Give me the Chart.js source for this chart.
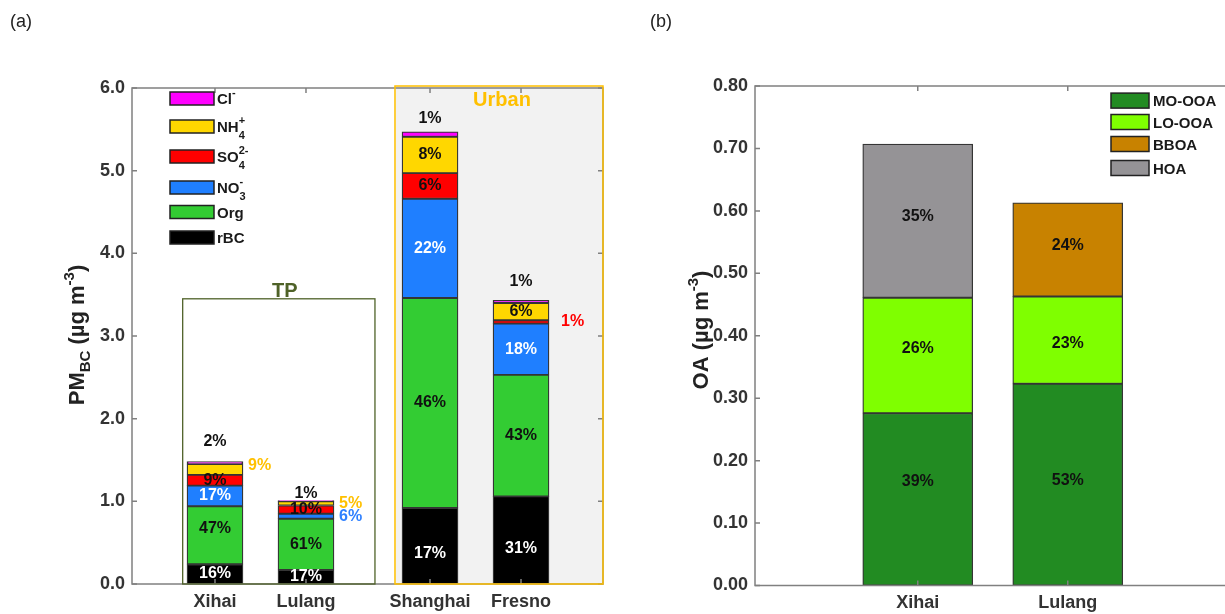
<!DOCTYPE html>
<html>
<head>
<meta charset="utf-8">
<script src="https://cdn.jsdelivr.net/npm/chart.js@4.4.1/dist/chart.umd.min.js"></script>
<style>
  html, body { margin: 0; padding: 0; background: #fff; overflow: hidden; width: 1225px; height: 614px; }
  #wrap { position: relative; width: 1225px; height: 614px; overflow: hidden; }
  canvas { position: absolute; top: 0; }
  #pmCanvas { left: 0; }
  #oaCanvas { left: 640px; }
  .panel { position: absolute; top: 11px; font: 18px 'Liberation Sans', Arial, sans-serif; color: #222; }
</style>
</head>
<body>
<div id="wrap">
  <canvas id="pmCanvas" width="640" height="614"></canvas>
  <canvas id="oaCanvas" width="600" height="614"></canvas>
  <div class="panel" style="left:10px">(a)</div>
  <div class="panel" style="left:650px">(b)</div>
</div>
<script>
// ---------- panel (a): PM_BC composition ----------
const sites = ['Xihai', 'Lulang', 'Shanghai', 'Fresno'];
const sitePos = [1, 2, 3.363, 4.363];
const rBC = [0.24, 0.17, 0.92, 1.06];
const org = [0.70, 0.62, 2.54, 1.47];
const no3 = [0.25, 0.06, 1.20, 0.62];
const so4 = [0.13, 0.10, 0.31, 0.04];
const nh4 = [0.13, 0.05, 0.44, 0.21];
const cl  = [0.03, 0.01, 0.06, 0.03];
const pmTicks = [0, 1, 2, 3, 4, 5, 6];

// ---------- panel (b): OA source factors ----------
const oaSites = ['Xihai', 'Lulang'];
const oaPos = [1, 2];
const moOOA = [0.276, 0.323];
const loOOA = [0.185, 0.140];
const bbOA  = [null, 0.150];
const hOA   = [0.246, null];
const oaTicks = [0, 0.1, 0.2, 0.3, 0.4, 0.5, 0.6, 0.7, 0.8];

const FONT = "'Liberation Sans', Arial, sans-serif";
Chart.defaults.font.family = FONT;

const pmSeries = [
  { key: 'rBC', values: rBC, fill: '#000000', text: '#ffffff' },
  { key: 'org', values: org, fill: '#33CC33', text: '#111111' },
  { key: 'no3', values: no3, fill: '#1F7FFF', text: '#ffffff' },
  { key: 'so4', values: so4, fill: '#FF0000', text: '#111111' },
  { key: 'nh4', values: nh4, fill: '#FFD700', text: '#111111' },
  { key: 'cl',  values: cl,  fill: '#FF00FF', text: '#111111' }
];
const oaSeries = [
  { key: 'mo', name: 'MO-OOA', values: moOOA, fill: '#228B22', text: '#111111' },
  { key: 'lo', name: 'LO-OOA', values: loOOA, fill: '#7FFF00', text: '#111111' },
  { key: 'bb', name: 'BBOA',   values: bbOA,  fill: '#C88200', text: '#111111' },
  { key: 'ho', name: 'HOA',    values: hOA,   fill: '#959396', text: '#111111' }
];

// where each share label sits (default: centred in its segment)
const pmLabelStyle = {
  rBC: { 2: { dy: 8 }, 3: { dy: 8 } },
  org: { 0: { dy: -7 } },
  no3: { 1: { pos: 'right', gap: 5, color: '#2F80FF' } },
  so4: { 3: { pos: 'right', gap: 12, color: '#FF0000' } },
  nh4: { 0: { pos: 'right', gap: 5, color: '#FFC000', dy: -4 }, 1: { pos: 'right', gap: 5, color: '#FFC000' } },
  cl:  { 0: { pos: 'above', gap: 20 }, 1: { pos: 'above', gap: 7 }, 2: { pos: 'above', gap: 13 }, 3: { pos: 'above', gap: 19 } }
};
const oaLabelStyle = {
  mo: { 0: { dy: -18 }, 1: { dy: -4 } },
  lo: { 0: { dy: -7 }, 1: { dy: 3 } },
  bb: { 1: { dy: -4 } },
  ho: { 0: { dy: -4 } }
};

// legend rows: rich text pieces (sub/superscripts)
const SUP = -8, SUB = 7;
const pmLegend = [
  { key: 'cl',  cy: 98.5,  parts: [{ t: 'Cl' }, { t: '-', size: 11, dy: SUP }] },
  { key: 'nh4', cy: 126.5, parts: [{ t: 'NH' }, { t: '+', size: 11, dy: SUP }, { t: '4', size: 11, dy: SUB, stack: true }] },
  { key: 'so4', cy: 156.5, parts: [{ t: 'SO' }, { t: '2-', size: 11, dy: SUP }, { t: '4', size: 11, dy: SUB, stack: true }] },
  { key: 'no3', cy: 187.5, parts: [{ t: 'NO' }, { t: '-', size: 11, dy: SUP }, { t: '3', size: 11, dy: SUB, stack: true }] },
  { key: 'org', cy: 212,   parts: [{ t: 'Org' }] },
  { key: 'rBC', cy: 237.5, parts: [{ t: 'rBC' }] }
];
const oaLegendRows = [100.6, 122, 144, 168];

// annotation boxes of panel (a), in axis units
const tpBox = { from: 0.645, to: 2.758, top: 3.45 };
const urbanBox = { from: 2.978 };

function drawParts(ctx, parts, x, y, align, baseSize) {
  let cur = 0, lastStart = 0;
  const placed = [];
  parts.forEach(p => {
    const size = p.size || baseSize;
    ctx.font = `bold ${size}px ${FONT}`;
    const w = ctx.measureText(p.t).width;
    const start = p.stack ? lastStart : cur;
    placed.push({ p, size, start });
    lastStart = start;
    cur = Math.max(cur, start + w);
  });
  const x0 = align === 'center' ? x - cur / 2 : x;
  ctx.textAlign = 'left';
  ctx.textBaseline = 'alphabetic';
  placed.forEach(({ p, size, start }) => {
    ctx.font = `bold ${size}px ${FONT}`;
    ctx.fillText(p.t, x0 + start, y + (p.dy || 0));
  });
}

function drawFrame(chart) {
  const { ctx, chartArea: a, scales: { x, y } } = chart;
  const L = 5;
  ctx.save();
  ctx.strokeStyle = '#808080';
  ctx.lineWidth = 1.5;
  ctx.strokeRect(a.left, a.top, a.right - a.left, a.bottom - a.top);
  ctx.beginPath();
  y.ticks.forEach(t => {
    const py = y.getPixelForValue(t.value);
    ctx.moveTo(a.left, py); ctx.lineTo(a.left + L, py);
    ctx.moveTo(a.right, py); ctx.lineTo(a.right - L, py);
  });
  x.ticks.forEach(t => {
    const px = x.getPixelForValue(t.value);
    ctx.moveTo(px, a.top); ctx.lineTo(px, a.top + L);
    ctx.moveTo(px, a.bottom); ctx.lineTo(px, a.bottom - L);
  });
  ctx.stroke();
  ctx.restore();
}

function drawShares(chart, series, styleMap) {
  const ctx = chart.ctx;
  const n = series[0].values.length;
  const totals = Array.from({ length: n }, (_, i) => series.reduce((s, d) => s + (d.values[i] || 0), 0));
  ctx.save();
  ctx.font = `bold 16px ${FONT}`;
  ctx.textBaseline = 'middle';
  series.forEach((d, di) => {
    const meta = chart.getDatasetMeta(di);
    d.values.forEach((v, i) => {
      if (!v) return;
      const el = meta.data[i];
      const { x, y, base, width } = el.getProps(['x', 'y', 'base', 'width'], true);
      const st = Object.assign({ pos: 'in', color: d.text, dx: 0, dy: 0, gap: 0 }, (styleMap[d.key] || {})[i] || {});
      let tx = x, ty = (y + base) / 2, align = 'center';
      if (st.pos === 'right') { tx = x + width / 2 + st.gap; align = 'left'; }
      else if (st.pos === 'above') { ty = y - st.gap; }
      ctx.fillStyle = st.color;
      ctx.textAlign = align;
      ctx.fillText(Math.round(v / totals[i] * 100) + '%', tx + st.dx, ty + st.dy);
    });
  });
  ctx.restore();
}

function drawTitle(ctx, parts, baseX, centerY, size) {
  ctx.save();
  ctx.fillStyle = '#222';
  ctx.translate(baseX, centerY);
  ctx.rotate(-Math.PI / 2);
  drawParts(ctx, parts, 0, 0, 'center', size);
  ctx.restore();
}

function datasetsFrom(series, pos, thickness) {
  return series.map(s => ({
    label: s.key,
    data: s.values.map((v, i) => ({ x: pos[i], y: v })),
    backgroundColor: s.fill,
    borderColor: '#353535',
    borderWidth: 1.3,
    borderSkipped: false,
    barThickness: thickness
  }));
}

function baseOptions(opts) {
  return {
    responsive: false,
    animation: false,
    devicePixelRatio: 1,
    layout: { padding: opts.padding },
    plugins: { legend: { display: false }, tooltip: { enabled: false } },
    scales: {
      x: {
        type: 'linear', min: opts.xMin, max: opts.xMax, stacked: true, offset: false, bounds: 'data',
        grid: { display: false, drawTicks: false, offset: false }, border: { display: false },
        afterBuildTicks: s => { s.ticks = opts.pos.map(v => ({ value: v })); },
        ticks: { callback: (v, i) => opts.names[i], font: { size: 18, weight: 'bold' }, color: '#333',
                 padding: 7, maxRotation: 0, autoSkip: false },
        afterFit: s => { s.height = opts.xHeight; }
      },
      y: {
        type: 'linear', min: opts.yMin, max: opts.yMax, stacked: true,
        grid: { display: false, drawTicks: false }, border: { display: false },
        afterBuildTicks: s => { s.ticks = opts.yTicks.map(v => ({ value: v })); },
        ticks: { callback: v => v.toFixed(opts.yDigits), font: { size: 18, weight: 'bold' }, color: '#333', padding: 7 },
        afterFit: s => { s.width = opts.yWidth; }
      }
    }
  };
}

const pmDecor = {
  id: 'pmDecor',
  beforeDatasetsDraw(chart) {
    const { ctx, chartArea: a, scales: { x } } = chart;
    const ux = x.getPixelForValue(urbanBox.from);
    ctx.save();
    ctx.fillStyle = '#F2F2F2';
    ctx.fillRect(ux, a.top - 2, a.right - ux, a.bottom - a.top + 2);
    ctx.restore();
  },
  afterDatasetsDraw(chart) {
    const { ctx, chartArea: a, scales: { x, y } } = chart;
    drawFrame(chart);
    ctx.save();
    // Urban box
    const ux = x.getPixelForValue(urbanBox.from);
    ctx.strokeStyle = '#FFC000';
    ctx.lineWidth = 1.5;
    ctx.strokeRect(ux, a.top - 2, a.right - ux, a.bottom - a.top + 2);
    // TP box
    const tl = x.getPixelForValue(tpBox.from), tr = x.getPixelForValue(tpBox.to), tt = y.getPixelForValue(tpBox.top);
    ctx.strokeStyle = '#4F6228';
    ctx.lineWidth = 1.3;
    ctx.strokeRect(tl, tt, tr - tl, a.bottom - tt);
    ctx.font = `bold 20px ${FONT}`;
    ctx.textAlign = 'center';
    ctx.textBaseline = 'alphabetic';
    ctx.fillStyle = '#4F6228';
    ctx.fillText('TP', (tl + tr) / 2 + 6, tt - 2);
    ctx.fillStyle = '#FFC000';
    ctx.fillText('Urban', (ux + a.right) / 2 + 3, a.top + 18);
    // legend
    pmLegend.forEach(row => {
      const s = pmSeries.find(d => d.key === row.key);
      ctx.fillStyle = s.fill;
      ctx.fillRect(170, row.cy - 6.5, 44, 13);
      ctx.strokeStyle = '#222';
      ctx.lineWidth = 1.5;
      ctx.strokeRect(170, row.cy - 6.5, 44, 13);
      ctx.fillStyle = '#1a1a1a';
      drawParts(ctx, row.parts, 217, row.cy + 5.5, 'left', 15);
    });
    ctx.restore();
    drawShares(chart, pmSeries, pmLabelStyle);
  },
  afterDraw(chart) {
    drawTitle(chart.ctx, [
      { t: 'PM' }, { t: 'BC', size: 15, dy: 6 }, { t: ' (µg m' }, { t: '-3', size: 15, dy: -10 }, { t: ')' }
    ], 84, 335, 22);
  }
};

const oaDecor = {
  id: 'oaDecor',
  afterDatasetsDraw(chart) {
    const ctx = chart.ctx;
    drawFrame(chart);
    ctx.save();
    oaSeries.forEach((s, i) => {
      const cy = oaLegendRows[i];
      ctx.fillStyle = s.fill;
      ctx.fillRect(471, cy - 7.5, 38, 15);
      ctx.strokeStyle = '#222';
      ctx.lineWidth = 1.5;
      ctx.strokeRect(471, cy - 7.5, 38, 15);
      ctx.fillStyle = '#1a1a1a';
      drawParts(ctx, [{ t: s.name }], 513, cy + 5.5, 'left', 15);
    });
    ctx.restore();
    drawShares(chart, oaSeries, oaLabelStyle);
  },
  afterDraw(chart) {
    drawTitle(chart.ctx, [{ t: 'OA (µg m' }, { t: '-3', size: 15, dy: -10 }, { t: ')' }], 68, 330, 22);
  }
};

new Chart(document.getElementById('pmCanvas'), {
  type: 'bar',
  data: { datasets: datasetsFrom(pmSeries, sitePos, 56) },
  options: baseOptions({
    padding: { left: 0, right: 37, top: 88, bottom: 0 },
    xMin: 0.088, xMax: 5.264, pos: sitePos, names: sites, xHeight: 30,
    yMin: 0, yMax: 6, yTicks: pmTicks, yDigits: 1, yWidth: 132
  }),
  plugins: [pmDecor]
});

new Chart(document.getElementById('oaCanvas'), {
  type: 'bar',
  data: { datasets: datasetsFrom(oaSeries, oaPos, 110) },
  options: baseOptions({
    padding: { left: 0, right: 9.5, top: 86, bottom: 0 },
    xMin: -0.085, xMax: 3.085, pos: oaPos, names: oaSites, xHeight: 28.5,
    yMin: 0, yMax: 0.8, yTicks: oaTicks, yDigits: 2, yWidth: 115
  }),
  plugins: [oaDecor]
});
</script>
</body>
</html>
